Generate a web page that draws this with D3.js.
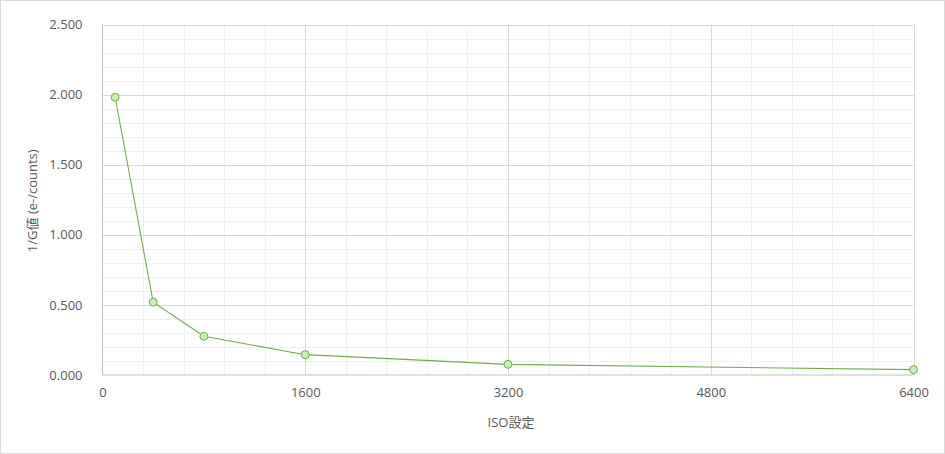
<!DOCTYPE html>
<html><head><meta charset="utf-8">
<script src="https://cdn.jsdelivr.net/npm/d3@7"></script>
<style>
html,body{margin:0;padding:0;background:#fff;}
text{font-family:"Open Sans","Noto Sans","Noto Sans CJK JP",sans-serif;fill:#595959;}
</style></head>
<body><svg id="c" width="945" height="454"></svg>
<script>
const isoValues = [100, 400, 800, 1600, 3200, 6400];
const invGain = [1.981, 0.519, 0.276, 0.145, 0.076, 0.038];
const xTicks = [0, 1600, 3200, 4800, 6400];
const yTicks = [0, 0.5, 1.0, 1.5, 2.0, 2.5];
const xTitle = "ISO設定";
const yTitle = "1/G値 (e-/counts)";

const svg = d3.select("#c");
svg.append("rect").attr("x",0.5).attr("y",0.5).attr("width",944).attr("height",453)
  .attr("fill","#fff").attr("stroke","#d9d9d9");

const L=102.5, R=913.5, T=24.5, B=375;
const x = d3.scaleLinear().domain([0,6400]).range([L,R]);
const y = d3.scaleLinear().domain([0,2.5]).range([B,T]);

const g = svg.append("g");
// minor grid
const xMinor = d3.range(0,6400.1,320).filter(v=>v%1600!==0);
const yMinor = d3.range(0,2.501,0.1).map(v=>+v.toFixed(2)).filter(v=>Math.abs(v*2-Math.round(v*2))>1e-6);
g.selectAll(".xm").data(xMinor).enter().append("line")
  .attr("x1",d=>Math.round(x(d))+0.5).attr("x2",d=>Math.round(x(d))+0.5).attr("y1",T).attr("y2",B)
  .attr("stroke","#f0f0f0");
g.selectAll(".ym").data(yMinor).enter().append("line")
  .attr("y1",d=>Math.round(y(d))+0.5).attr("y2",d=>Math.round(y(d))+0.5).attr("x1",L).attr("x2",R)
  .attr("stroke","#f0f0f0");
// major grid
g.selectAll(".xM").data(xTicks.slice(1)).enter().append("line")
  .attr("x1",d=>Math.round(x(d))+0.5).attr("x2",d=>Math.round(x(d))+0.5).attr("y1",T).attr("y2",B)
  .attr("stroke","#d9d9d9");
g.selectAll(".yM").data(yTicks.slice(1)).enter().append("line")
  .attr("y1",d=>Math.round(y(d))+0.5).attr("y2",d=>Math.round(y(d))+0.5).attr("x1",L).attr("x2",R)
  .attr("stroke","#d9d9d9");
// axes lines
g.append("line").attr("x1",L).attr("x2",L).attr("y1",T).attr("y2",B).attr("stroke","#bfbfbf");
g.append("line").attr("x1",L).attr("x2",R).attr("y1",B).attr("y2",B).attr("stroke","#bfbfbf");

// axis labels via d3 axes
const fmt = d3.format(".3f");
const yAxis = svg.append("g").attr("transform",`translate(${L},0)`)
  .call(d3.axisLeft(y).tickValues(yTicks).tickFormat(fmt).tickSize(0).tickPadding(20));
const xAxis = svg.append("g").attr("transform",`translate(0,${B})`)
  .call(d3.axisBottom(x).tickValues(xTicks).tickFormat(d3.format("d")).tickSize(0).tickPadding(13));
[yAxis,xAxis].forEach(a=>{a.select(".domain").remove();
  a.selectAll("text").style("font-family",'"Open Sans","Noto Sans",sans-serif').style("font-size","13px").attr("fill","#595959");});

svg.append("text").attr("x",(L+R)/2+3).attr("y",427).attr("text-anchor","middle")
  .style("font-size","13px").text(xTitle);
svg.append("text").attr("transform",`translate(37,${(T+B)/2+1}) rotate(-90)`).attr("text-anchor","middle")
  .style("font-size","13px").text(yTitle);

// line
const pts = isoValues.map((v,i)=>[v,invGain[i]]);
svg.append("path").datum(pts)
  .attr("d",d3.line().x(d=>x(d[0])).y(d=>y(d[1])))
  .attr("fill","none").attr("stroke","#70ad47").attr("stroke-width",1.1);
svg.selectAll(".pt").data(pts).enter().append("circle")
  .attr("cx",d=>x(d[0])).attr("cy",d=>y(d[1])).attr("r",4)
  .attr("fill","#c6efb3").attr("stroke","#70ad47").attr("stroke-width",1);
</script></body></html>
